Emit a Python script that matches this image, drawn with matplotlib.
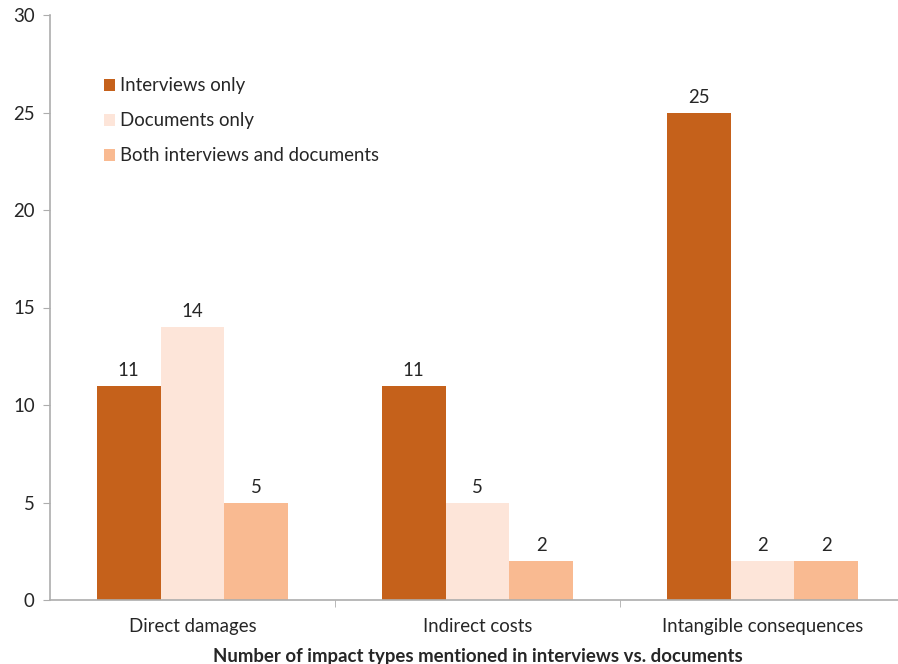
import matplotlib.pyplot as plt
import numpy as np

# impact type counts by source
categories = ['Direct damages', 'Indirect costs', 'Intangible consequences']
series_names = ['Interviews only', 'Documents only', 'Both interviews and documents']
interviews_only = [11, 11, 25]
documents_only = [14, 5, 2]
both_sources = [5, 2, 2]
colors = ['#C5611B', '#FDE5D9', '#F9BA91']

plt.rcParams['font.family'] = ['Lato', 'DejaVu Sans']
text_color = '#262626'
axis_color = '#ADADAD'
fs = 13.4

fig = plt.figure(figsize=(8.98, 6.64), dpi=100)
ax = fig.add_axes([50 / 898, 64 / 664, 855 / 898, 585 / 664])

x = np.arange(len(categories))
w = 0.2245
for i, (vals, name) in enumerate(zip([interviews_only, documents_only, both_sources], series_names)):
    bars = ax.bar(x + (i - 1) * w, vals, width=w, color=colors[i], label=name)
    for b, v in zip(bars, vals):
        ax.annotate(str(v), (b.get_x() + b.get_width() / 2, v), xytext=(0, 5),
                    textcoords='offset points', ha='center', va='bottom',
                    fontsize=fs, color=text_color)

ax.set_xlim(-0.5, 2.5)
ax.set_ylim(0, 30)
ax.set_yticks(range(0, 31, 5))
ax.set_xticks(x)
ax.set_xticklabels(categories)
ax.set_xticks([0.5, 1.5], minor=True)
ax.tick_params(axis='x', which='major', length=0, pad=13, labelsize=fs, labelcolor=text_color)
ax.tick_params(axis='x', which='minor', length=5, color=axis_color, direction='out')
ax.tick_params(axis='y', length=5, color=axis_color, labelsize=fs, labelcolor=text_color, pad=6)

for s in ['top', 'right']:
    ax.spines[s].set_visible(False)
for s in ['left', 'bottom']:
    ax.spines[s].set_color(axis_color)
    ax.spines[s].set_linewidth(1.2)

ax.set_xlabel('Number of impact types mentioned in interviews vs. documents',
              fontsize=fs, fontweight='bold', color=text_color, labelpad=9)

ax.legend(loc='upper left', bbox_to_anchor=(0.043, 0.922), frameon=False,
          fontsize=fs, handlelength=0.6, handleheight=0.6, handletextpad=0.3,
          labelspacing=0.97, labelcolor=text_color)

fig.savefig('out.png', dpi=100)
